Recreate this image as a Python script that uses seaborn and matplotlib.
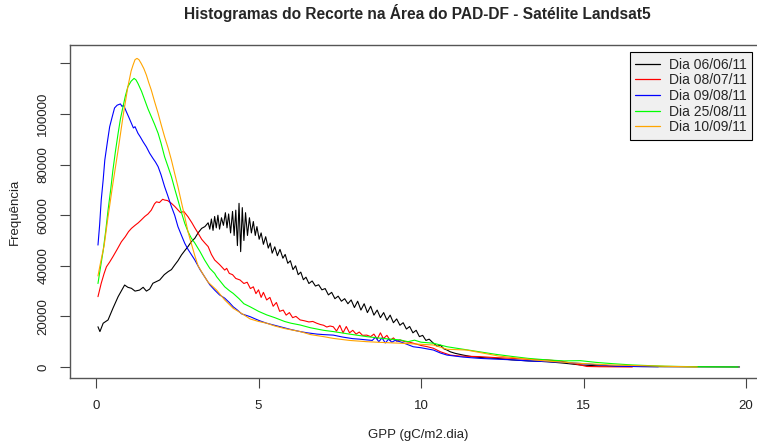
import matplotlib
matplotlib.use("Agg")
import matplotlib.pyplot as plt
import seaborn as sns
import pandas as pd
from matplotlib.lines import Line2D

# ---------------- data ----------------
labels = ["Dia 06/06/11", "Dia 08/07/11", "Dia 09/08/11", "Dia 25/08/11", "Dia 10/09/11"]
colors = ["#000000", "#FF0000", "#0000FF", "#00FF00", "#FFA500"]

x_0606 = [0.06, 0.12, 0.22, 0.37, 0.52, 0.68, 0.88, 0.98, 1.09, 1.2, 1.34, 1.45, 1.55, 1.65, 1.75,
          1.86, 1.96, 2.1, 2.22, 2.32, 2.42, 2.52, 2.63, 2.73, 2.83, 2.93, 3.04, 3.14, 3.25, 3.35,
          3.45, 3.5, 3.55, 3.6, 3.65, 3.7, 3.75, 3.8, 3.86, 3.92, 3.98, 4.03, 4.08, 4.14, 4.2,
          4.25, 4.3, 4.35, 4.4, 4.45, 4.5, 4.55, 4.6, 4.66, 4.72, 4.78, 4.84, 4.9, 4.95, 5.02,
          5.08, 5.15, 5.22, 5.3, 5.36, 5.42, 5.5, 5.58, 5.66, 5.75, 5.82, 5.9, 5.98, 6.06, 6.14,
          6.22, 6.3, 6.38, 6.46, 6.55, 6.65, 6.75, 6.85, 6.95, 7.05, 7.15, 7.25, 7.35, 7.45, 7.55,
          7.65, 7.75, 7.85, 7.95, 8.05, 8.15, 8.25, 8.35, 8.45, 8.55, 8.65, 8.75, 8.85, 8.95, 9.05,
          9.15, 9.25, 9.35, 9.45, 9.55, 9.65, 9.75, 9.85, 9.95, 10.05, 10.15, 10.25, 10.38, 10.5,
          10.6, 10.7, 10.8, 10.9, 11.05, 11.3, 11.6, 12.0, 12.33, 12.8, 13.3, 13.87, 14.4, 14.9,
          15.5, 16.5, 17.5, 18.5, 19.8]
y_0606 = [15900, 14000, 17300, 18600, 23200, 27800, 32400, 31500, 31100, 30000, 30400, 31500, 30000,
          30800, 33100, 33800, 34400, 36500, 37700, 38500, 40300, 42000, 44300, 46000, 47600, 49500,
          50900, 53000, 54800, 55500, 57000, 54500, 58500, 54000, 59500, 55000, 60000, 54500, 59000,
          56000, 61000, 55000, 60500, 53000, 61500, 52000, 62000, 48000, 64700, 45600, 63000, 50000,
          61000, 52000, 59000, 53000, 57500, 52000, 55500, 50500, 53000, 48500, 51500, 47000, 49000,
          45000, 47500, 44000, 46500, 43000, 44500, 41000, 42000, 38500, 40000, 36500, 37500, 34500,
          35500, 33000, 34000, 32000, 32500, 30500, 31000, 28500, 29500, 27000, 28000, 26000, 27000,
          25000, 26500, 23500, 26000, 22500, 25000, 21500, 24000, 20500, 22500, 19500, 21500, 18500,
          20500, 17500, 19000, 16500, 17500, 15000, 16000, 13500, 14500, 12000, 12500, 10500, 11000,
          9400, 8200, 8600, 7200, 6700, 6000, 5400, 4700, 4000, 3600, 3400, 2800, 2400, 2100, 1500,
          800, 400, 200, 100, 50, 0]

x_0807 = [0.06, 0.16, 0.25, 0.32, 0.42, 0.52, 0.65, 0.78, 0.9, 1.0, 1.09, 1.2, 1.3, 1.39, 1.5, 1.6,
          1.7, 1.8, 1.86, 1.95, 2.05, 2.11, 2.2, 2.32, 2.42, 2.52, 2.6, 2.7, 2.83, 2.95, 3.04, 3.14,
          3.25, 3.35, 3.45, 3.55, 3.65, 3.8, 3.96, 4.02, 4.1, 4.2, 4.3, 4.43, 4.55, 4.65, 4.75, 4.84,
          4.92, 5.0, 5.08, 5.15, 5.25, 5.35, 5.45, 5.55, 5.65, 5.76, 5.85, 5.95, 6.05, 6.15, 6.28,
          6.4, 6.55, 6.67, 6.79, 6.9, 7.0, 7.1, 7.2, 7.3, 7.4, 7.5, 7.6, 7.7, 7.8, 7.9, 8.0, 8.1,
          8.2, 8.33, 8.45, 8.55, 8.65, 8.75, 8.84, 8.95, 9.05, 9.15, 9.25, 9.35, 9.5, 9.65, 9.76,
          9.87, 10.0, 10.2, 10.38, 10.6, 10.9, 11.2, 11.5, 11.8, 12.3, 12.84, 13.3, 13.87, 14.3,
          14.6, 14.9, 15.1, 15.5, 16.5]
y_0807 = [27800, 33100, 37000, 39600, 41500, 43600, 46500, 49500, 51500, 53500, 54800, 56000, 57000,
          58100, 59500, 60500, 62000, 64500, 65300, 65000, 66300, 66000, 65800, 64700, 63500, 62100,
          61000, 61500, 59400, 57000, 55000, 52900, 50500, 49000, 47600, 44500, 42300, 40500, 38300,
          39000, 37000, 36500, 35000, 34400, 33000, 33500, 31000, 31700, 29000, 30500, 27500, 29500,
          26500, 27500, 24000, 25500, 22000, 22500, 20500, 21500, 19500, 20000, 18600, 18300, 17800,
          18000, 17300, 16800, 16500, 15800, 16200, 15900, 14200, 16500, 13500, 16000, 13500, 14500,
          13000, 13800, 12500, 12600, 12000, 13000, 11000, 13500, 11200, 12500, 10500, 11500, 10200,
          10700, 10000, 9800, 9400, 9000, 8500, 8000, 7400, 6000, 4700, 4300, 4200, 4100, 3700, 3400,
          3000, 2800, 2300, 1600, 800, 200, 100, 0]

x_0908 = [0.06, 0.11, 0.16, 0.22, 0.27, 0.35, 0.42, 0.5, 0.57, 0.65, 0.75, 0.8, 0.85, 0.93, 1.0,
          1.09, 1.15, 1.2, 1.29, 1.36, 1.45, 1.55, 1.65, 1.75, 1.83, 1.91, 2.0, 2.11, 2.2, 2.32,
          2.42, 2.52, 2.63, 2.73, 2.83, 2.93, 3.04, 3.2, 3.34, 3.5, 3.65, 3.8, 3.96, 4.1, 4.22,
          4.35, 4.48, 4.6, 4.74, 4.9, 5.05, 5.25, 5.46, 5.7, 6.0, 6.28, 6.5, 6.8, 7.0, 7.3, 7.6,
          7.9, 8.1, 8.33, 8.5, 8.6, 8.7, 8.8, 8.9, 9.0, 9.1, 9.2, 9.35, 9.5, 9.76, 10.0, 10.38,
          10.6, 10.8, 11.3, 11.8, 12.3, 12.84, 13.3, 13.87, 14.4, 14.9, 15.5, 16.0, 16.8, 17.3]
y_0908 = [48200, 56000, 66000, 74000, 81800, 89000, 95000, 99000, 102400, 103500, 104000, 103000,
          103500, 101000, 99000, 96300, 94500, 95000, 92400, 91000, 89000, 87000, 84500, 82500, 81000,
          79200, 76000, 71300, 68000, 63400, 60000, 55500, 52000, 48900, 46500, 44500, 42300, 38500,
          35700, 32500, 30400, 28500, 27200, 25500, 23800, 22500, 21000, 20500, 19900, 19000, 18200,
          17300, 16600, 15800, 14800, 14000, 13500, 13000, 12800, 12600, 11800, 11200, 11000, 10700,
          10500, 11800, 10000, 11500, 9500, 11000, 9800, 10500, 10000, 9300, 8000, 7600, 6700, 5500,
          4700, 3900, 3400, 3100, 2800, 2400, 2100, 1800, 1400, 800, 300, 150, 100]

x_2508 = [0.06, 0.12, 0.22, 0.3, 0.37, 0.45, 0.52, 0.6, 0.68, 0.75, 0.83, 0.9, 0.98, 1.08, 1.17,
          1.23, 1.29, 1.4, 1.5, 1.6, 1.7, 1.8, 1.91, 2.0, 2.11, 2.22, 2.32, 2.42, 2.52, 2.63, 2.73,
          2.83, 2.93, 3.04, 3.2, 3.34, 3.5, 3.65, 3.71, 3.96, 4.1, 4.22, 4.4, 4.55, 4.74, 5.0, 5.25,
          5.5, 5.8, 6.0, 6.28, 6.6, 7.0, 7.3, 7.8, 8.33, 8.8, 9.35, 9.6, 9.8, 10.0, 10.38, 10.8,
          11.3, 11.8, 12.3, 12.84, 13.3, 13.87, 14.4, 14.9, 15.4, 15.9, 16.5, 17.5, 18.5, 19.75]
y_2508 = [33000, 38000, 46000, 54000, 62000, 70000, 77900, 85500, 92400, 98000, 102900, 107000,
          110800, 113000, 114100, 113500, 112100, 109000, 105500, 102000, 99000, 96000, 92400, 88500,
          83100, 79000, 75200, 70500, 66000, 61000, 56800, 53500, 51000, 49000, 45600, 42300, 39000,
          37000, 35700, 31700, 30200, 29100, 27000, 25000, 23800, 22000, 20600, 19500, 18000, 17300,
          16600, 15500, 14500, 14000, 13000, 12000, 11300, 10700, 10000, 10600, 9800, 9400, 8000,
          7000, 6000, 5000, 4100, 3400, 2800, 2400, 2500, 1800, 1300, 800, 300, 100, 0]

x_1009 = [0.06, 0.12, 0.2, 0.25, 0.37, 0.52, 0.68, 0.83, 0.98, 1.08, 1.14, 1.2, 1.26, 1.32, 1.39,
          1.47, 1.55, 1.62, 1.7, 1.8, 1.91, 2.0, 2.11, 2.22, 2.32, 2.42, 2.52, 2.63, 2.73, 2.83,
          2.93, 3.04, 3.14, 3.3, 3.45, 3.71, 3.96, 4.22, 4.5, 4.74, 5.0, 5.25, 5.5, 5.8, 6.0, 6.28,
          6.6, 7.0, 7.3, 7.8, 8.33, 8.8, 9.35, 9.8, 10.38, 10.8, 11.4, 12.4, 13.8, 14.8, 15.8,
          16.8, 17.8, 18.5]
y_1009 = [36000, 40000, 45000, 48000, 59400, 72600, 85800, 99000, 110800, 117000, 119400, 121500,
          122000, 121500, 120000, 118000, 115400, 112500, 109500, 105000, 100300, 96000, 91000, 86500,
          81800, 76500, 71300, 65000, 59400, 53500, 48900, 44000, 40000, 36500, 33500, 30400, 26500,
          23200, 21000, 19000, 18000, 17300, 16200, 15200, 14700, 14000, 12800, 12000, 11300, 10500,
          10000, 9700, 9400, 9100, 8700, 7000, 6700, 4300, 2400, 1500, 800, 500, 200, 0]

x_ticks = [0, 5, 10, 15, 20]
y_ticks = [0, 20000, 40000, 60000, 80000, 100000, 120000]
y_ticklabels = ["0", "20000", "40000", "60000", "80000", "100000", ""]

title = "Histogramas do Recorte na Área do PAD-DF - Satélite Landsat5"
xlabel = "GPP (gC/m2.dia)"
ylabel = "Frequência"

# ---------------- build long table ----------------
series = [(x_0606, y_0606), (x_0807, y_0807), (x_0908, y_0908), (x_2508, y_2508), (x_1009, y_1009)]
frames = []
for lab, (xs, ys) in zip(labels, series):
    frames.append(pd.DataFrame({"GPP": xs, "Freq": ys, "Dia": lab}))
df = pd.concat(frames, ignore_index=True)

# ---------------- style ----------------
sns.set_style("white")
plt.rcParams["font.family"] = ["Liberation Sans", "DejaVu Sans"]

fig = plt.figure(figsize=(7.57, 4.45), dpi=100)
ax = fig.add_axes([0.0925, 0.1506, 0.9188, 0.7483])

sns.lineplot(data=df, x="GPP", y="Freq", hue="Dia", hue_order=labels,
             palette=dict(zip(labels, colors)), estimator=None, sort=False,
             linewidth=0.8, legend=False, ax=ax)

ax.set_xlim(-0.8, 20.6)
ax.set_ylim(-4350, 127300)

ax.set_xticks(x_ticks)
ax.set_xticklabels([str(t) for t in x_ticks], fontsize=9.5)
ax.set_yticks(y_ticks)
ax.set_yticklabels(y_ticklabels, fontsize=9.5, rotation=90, va="center")

ax.tick_params(axis="both", direction="out", length=7, width=0.8, color="#444444",
               bottom=True, left=True, labelcolor="#222222")
ax.tick_params(axis="x", pad=9)
ax.tick_params(axis="y", pad=8)

for side, sp in ax.spines.items():
    sp.set_visible(True)
    sp.set_color("#555555")
    sp.set_linewidth(1.0)

ax.set_xlabel(xlabel, fontsize=9.5, color="#222222")
ax.xaxis.set_label_coords(0.5, -0.152)
ax.set_ylabel(ylabel, fontsize=9.5, color="#222222")
ax.yaxis.set_label_coords(-0.071, 0.5)

ax.set_title(title, fontsize=11.2, fontweight="bold", pad=19)

handles = [Line2D([0], [0], color=c, lw=0.9) for c in colors]
leg = ax.legend(handles, labels, loc="upper right", bbox_to_anchor=(0.9806, 0.979),
                borderaxespad=0, fontsize=10, frameon=True, fancybox=False,
                handlelength=1.75, handletextpad=0.65, labelspacing=0.12,
                borderpad=0.4)
leg.get_frame().set_edgecolor("#000000")
leg.get_frame().set_facecolor("#F0F0F0")
leg.get_frame().set_linewidth(0.8)
leg.get_frame().set_alpha(1)

fig.savefig("out.png", dpi=100)
